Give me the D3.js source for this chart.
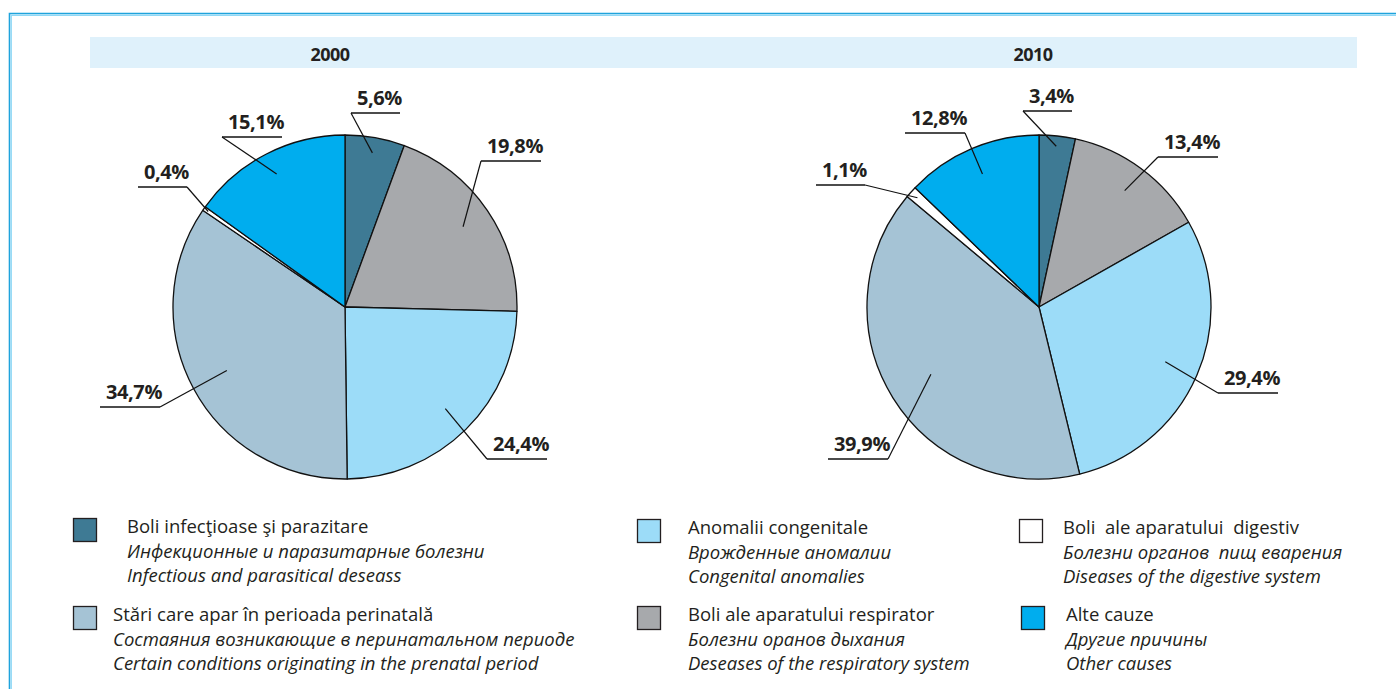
<!DOCTYPE html>
<html>
<head>
<meta charset="utf-8">
<script src="https://cdn.jsdelivr.net/npm/d3@7"></script>
<style>
  body { margin: 0; background: #fff; }
  text { font-family: "Open Sans", sans-serif; fill: #231f20; }
</style>
</head>
<body>
<div id="chart"></div>
<script>
// data
const years = ['2000', '2010'];
const categories = ['infectious', 'respiratory', 'congenital', 'perinatal', 'digestive', 'other'];
const values2000 = [5.6, 19.8, 24.4, 34.7, 0.4, 15.1];
const values2010 = [3.4, 13.4, 29.4, 39.9, 1.1, 12.8];
const colors = ['#3e7a94', '#a7a9ac', '#9cdcf8', '#a5c3d5', '#ffffff', '#00adee'];

const namesRo = ['Boli infecţioase şi parazitare', 'Boli ale aparatului respirator', 'Anomalii congenitale',
  'Stări care apar în perioada perinatală', 'Boli  ale aparatului  digestiv', 'Alte cauze'];
const namesRu = ['Инфекционные и паразитарные болезни', 'Болезни оранов дыхания', 'Врожденные аномалии',
  'Состаяния возникающие в перинатальном периоде', 'Болезни органов  пищ еварения', 'Другие причины'];
const namesEn = ['Infectious and parasitical deseass', 'Deseases of the respiratory system', 'Congenital anomalies',
  'Certain conditions originating in the prenatal period', 'Diseases of the digestive system', 'Other causes'];

// legend goes column by column
const legendOrder = ['infectious', 'perinatal', 'congenital', 'respiratory', 'digestive', 'other'];

// label placement: elbow offset from pie centre, which way the underline runs, where the leader starts
const labels2000 = [
  { dx: 6, dy: -194, side: 'r', f: 0.91 },
  { dx: 136, dy: -146, side: 'r', f: 0.83 },
  { dx: 142, dy: 152, side: 'r', f: 0.83 },
  { dx: -185, dy: 100, side: 'l', f: 0.78 },
  { dx: -158, dy: -120, side: 'l', f: 0.97 },
  { dx: -123, dy: -170, side: 'r', f: 0.87 }
];
const labels2010 = [
  { dx: -16, dy: -196, side: 'r', f: 0.94 },
  { dx: 119, dy: -150, side: 'r', f: 0.84 },
  { dx: 179, dy: 86, side: 'r', f: 0.80 },
  { dx: -151, dy: 152, side: 'l', f: 0.74 },
  { dx: -174, dy: -122, side: 'l', f: 0.95 },
  { dx: -74, dy: -174, side: 'l', f: 0.84 }
];

const width = 1396, height = 689;
const R = 172;
const centers = [{ x: 345, y: 307 }, { x: 1039, y: 307 }];
const titleX = [330, 1033];

const color = d3.scaleOrdinal().domain(categories).range(colors);
const fmt = v => d3.format('.1f')(v).replace('.', ',') + '%';

const svg = d3.select('#chart').append('svg')
  .attr('width', width)
  .attr('height', height);

// frame (top and left only)
svg.append('path').attr('d', `M9.5,${height} V13.5 H${width}`)
  .attr('fill', 'none').attr('stroke', '#1fa3dc').attr('stroke-width', 1.6);
svg.append('path').attr('d', `M11.2,${height} V15.2 H${width}`)
  .attr('fill', 'none').attr('stroke', '#8fd8f6').attr('stroke-width', 1.4);

// header band
svg.append('rect')
  .attr('x', 90).attr('y', 37).attr('width', 1267).attr('height', 31)
  .attr('fill', '#dff1fb');

svg.selectAll('.year')
  .data(years)
  .enter().append('text')
  .attr('class', 'year')
  .attr('x', (d, i) => titleX[i])
  .attr('y', 61)
  .attr('text-anchor', 'middle')
  .style('font-size', '18px')
  .style('font-weight', 'bold')
  .style('letter-spacing', '-0.5px')
  .text(d => d);

const pie = d3.pie().sort(null).value(d => d.value);
const arc = d3.arc().innerRadius(0).outerRadius(R);

[values2000, values2010].forEach((vals, yi) => {
  const layout = yi === 0 ? labels2000 : labels2010;
  const data = categories.map((c, i) => ({ key: c, value: vals[i], lab: layout[i] }));
  const c = centers[yi];
  const g = svg.append('g').attr('transform', `translate(${c.x},${c.y})`);

  const arcs = pie(data);

  g.selectAll('path.slice')
    .data(arcs)
    .enter().append('path')
    .attr('class', 'slice')
    .attr('d', arc)
    .attr('fill', d => color(d.data.key))
    .attr('stroke', '#111')
    .attr('stroke-width', 1.3)
    .attr('stroke-linejoin', 'round');

  const lab = g.selectAll('g.lab')
    .data(arcs)
    .enter().append('g')
    .attr('class', 'lab');

  lab.each(function (d) {
    const el = d3.select(this);
    const L = d.data.lab;
    const inner = d3.arc().innerRadius(R * L.f).outerRadius(R * L.f).centroid(d);

    const t = el.append('text')
      .style('font-size', '20px')
      .style('font-weight', 'bold')
      .style('letter-spacing', '-0.4px')
      .attr('text-anchor', 'end')
      .text(fmt(d.data.value));
    const w = t.node().getComputedTextLength() + 4;

    const x0 = L.side === 'r' ? L.dx : L.dx - w;
    const x1 = L.side === 'r' ? L.dx + w : L.dx;
    t.attr('x', x1 + 2).attr('y', L.dy - 8);

    el.append('path')
      .attr('d', `M${x0},${L.dy} H${x1}`)
      .attr('stroke', '#111').attr('stroke-width', 1.3).attr('fill', 'none');
    el.append('path')
      .attr('d', `M${inner[0]},${inner[1]} L${L.dx},${L.dy}`)
      .attr('stroke', '#111').attr('stroke-width', 1.2).attr('fill', 'none');
  });
});

// legend
const legendPos = [
  { x: 73, y: 518, tx: 127 },
  { x: 73, y: 606, tx: 113 },
  { x: 637, y: 519, tx: 688 },
  { x: 637, y: 606, tx: 688 },
  { x: 1019, y: 519, tx: 1063 },
  { x: 1021, y: 606, tx: 1066 }
];

const legend = svg.selectAll('g.legend')
  .data(legendOrder)
  .enter().append('g')
  .attr('class', 'legend');

legend.append('rect')
  .attr('x', (d, i) => legendPos[i].x + 0.5)
  .attr('y', (d, i) => legendPos[i].y + 0.5)
  .attr('width', 23).attr('height', 23)
  .attr('fill', d => color(d))
  .attr('stroke', '#231f20').attr('stroke-width', 1.3);

legend.each(function (d, i) {
  const k = categories.indexOf(d);
  const p = legendPos[i];
  const lines = [namesRo[k], namesRu[k], namesEn[k]];
  d3.select(this).selectAll('text')
    .data(lines)
    .enter().append('text')
    .attr('x', p.tx)
    .attr('y', (s, j) => p.y + 15 + j * 24.5)
    .style('font-size', '18.5px')
    .style('font-style', (s, j) => j === 0 ? 'normal' : 'italic')
    .style('white-space', 'pre')
    .text(s => s);
});
</script>
</body>
</html>
